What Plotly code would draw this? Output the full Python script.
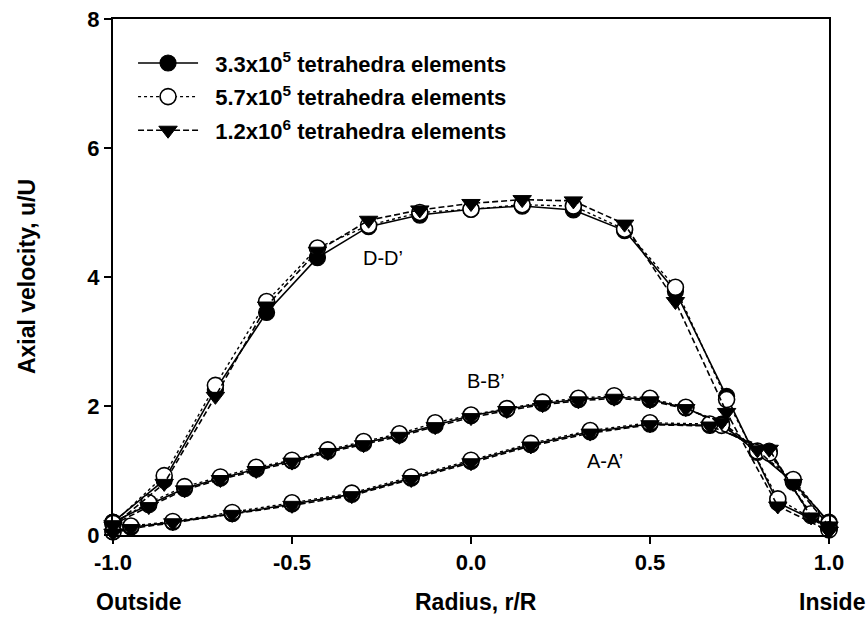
import plotly.graph_objects as go

# Radial stations (r/R) for each section
dd_r = [-1.0, -0.857, -0.714, -0.571, -0.429, -0.286, -0.143, 0.0,
        0.143, 0.286, 0.429, 0.571, 0.714, 0.857, 1.0]
bb_r = [-1.0, -0.9, -0.8, -0.7, -0.6, -0.5, -0.4, -0.3, -0.2, -0.1, 0.0,
        0.1, 0.2, 0.3, 0.4, 0.5, 0.6, 0.7, 0.8, 0.9, 1.0]
aa_r = [-1.0, -0.95, -0.833, -0.667, -0.5, -0.333, -0.167, 0.0,
        0.167, 0.333, 0.5, 0.667, 0.833, 0.95, 1.0]

# Axial velocity u/U, section D-D'
dd_coarse = [0.20, 0.85, 2.25, 3.45, 4.30, 4.78, 4.96, 5.05, 5.10, 5.04, 4.72, 3.78, 2.15, 0.50, 0.12]
dd_medium = [0.18, 0.92, 2.32, 3.62, 4.45, 4.80, 5.00, 5.05, 5.12, 5.10, 4.74, 3.84, 2.10, 0.56, 0.10]
dd_fine = [0.14, 0.80, 2.15, 3.55, 4.40, 4.88, 5.04, 5.14, 5.20, 5.18, 4.82, 3.62, 1.90, 0.45, 0.06]

# Axial velocity u/U, section B-B'
bb_coarse = [0.20, 0.47, 0.72, 0.88, 1.02, 1.15, 1.30, 1.42, 1.55, 1.70, 1.85,
             1.95, 2.04, 2.10, 2.14, 2.10, 1.97, 1.72, 1.28, 0.82, 0.20]
bb_medium = [0.18, 0.50, 0.75, 0.90, 1.05, 1.16, 1.32, 1.45, 1.57, 1.74, 1.86,
             1.96, 2.06, 2.12, 2.16, 2.12, 1.98, 1.70, 1.30, 0.86, 0.18]
bb_fine = [0.16, 0.44, 0.70, 0.86, 1.00, 1.13, 1.28, 1.40, 1.53, 1.68, 1.82,
           1.93, 2.02, 2.08, 2.12, 2.08, 1.96, 1.75, 1.32, 0.80, 0.14]

# Axial velocity u/U, section A-A'
aa_coarse = [0.05, 0.12, 0.20, 0.33, 0.48, 0.63, 0.88, 1.14, 1.40, 1.60, 1.72, 1.70, 1.30, 0.30, 0.10]
aa_medium = [0.05, 0.14, 0.21, 0.35, 0.50, 0.65, 0.90, 1.16, 1.42, 1.62, 1.74, 1.72, 1.27, 0.33, 0.08]
aa_fine = [0.03, 0.10, 0.19, 0.32, 0.46, 0.61, 0.86, 1.12, 1.38, 1.58, 1.71, 1.69, 1.33, 0.28, 0.06]

mesh_names = ["3.3x10<sup>5</sup> tetrahedra elements",
              "5.7x10<sup>5</sup> tetrahedra elements",
              "1.2x10<sup>6</sup> tetrahedra elements"]

section_labels = ["D-D\u2019", "B-B\u2019", "A-A\u2019"]
section_label_pos = [(-0.246, 4.29), (0.042, 2.38), (0.375, 1.15)]

x_ticks = [-1.0, -0.5, 0.0, 0.5, 1.0]
x_tick_text = ["-1.0", "-0.5", "0.0", "0.5", "1.0"]
y_ticks = [0, 2, 4, 6, 8]

FONT = "Arial, Liberation Sans, Helvetica, sans-serif"


def join_sections(*pairs):
    """Concatenate several (x, y) profiles into one trace with gaps."""
    xs, ys = [], []
    for x, y in pairs:
        if xs:
            xs.append(None)
            ys.append(None)
        xs.extend(x)
        ys.extend(y)
    return xs, ys


styles = [
    dict(line=dict(color="black", width=1.6, dash="solid"),
         marker=dict(symbol="circle", size=16, color="black",
                     line=dict(color="black", width=1.2))),
    dict(line=dict(color="black", width=1.4, dash="dot"),
         marker=dict(symbol="circle", size=16, color="white",
                     line=dict(color="black", width=1.6))),
    dict(line=dict(color="black", width=1.6, dash="6px,3px"),
         marker=dict(symbol="triangle-down", size=16, color="black",
                     line=dict(color="black", width=1.0))),
]

series = [
    ((dd_r, dd_coarse), (bb_r, bb_coarse), (aa_r, aa_coarse)),
    ((dd_r, dd_medium), (bb_r, bb_medium), (aa_r, aa_medium)),
    ((dd_r, dd_fine), (bb_r, bb_fine), (aa_r, aa_fine)),
]

fig = go.Figure()
for i, (name, style, profiles) in enumerate(zip(mesh_names, styles, series)):
    xs, ys = join_sections(*profiles)
    fig.add_trace(go.Scatter(
        x=xs, y=ys, mode="lines+markers", name="&nbsp;&nbsp;" + name,
        legendgroup=f"mesh{i}", connectgaps=False, cliponaxis=False,
        line=style["line"], marker=style["marker"],
    ))

for text, (lx, ly) in zip(section_labels, section_label_pos):
    fig.add_annotation(x=lx, y=ly, text=text, showarrow=False,
                       font=dict(family=FONT, size=20, color="black"))

# Axis titles and side labels
title_font = dict(family=FONT, size=23, color="black")
fig.add_annotation(xref="paper", yref="paper", x=0.507, y=-0.13,
                   text="<b>Radius, r/R</b>", showarrow=False,
                   xanchor="center", yanchor="middle", font=title_font)
fig.add_annotation(xref="paper", yref="paper", x=0.036, y=-0.13,
                   text="<b>Outside</b>", showarrow=False,
                   xanchor="center", yanchor="middle", font=title_font)
fig.add_annotation(xref="paper", yref="paper", x=1.004, y=-0.13,
                   text="<b>Inside</b>", showarrow=False,
                   xanchor="center", yanchor="middle", font=title_font)
fig.add_annotation(xref="paper", yref="paper", x=-0.12, y=0.5,
                   text="<b>Axial velocity, u/U</b>", showarrow=False,
                   textangle=-90, xanchor="center", yanchor="middle",
                   font=title_font)

axis_common = dict(
    showline=True, linecolor="black", linewidth=2, mirror=True,
    ticks="outside", ticklen=7, tickwidth=1.5, tickcolor="black",
    showgrid=False, zeroline=False, automargin=False,
    tickfont=dict(family=FONT, size=22, color="black", weight="bold"),
)

fig.update_layout(
    width=866, height=618,
    margin=dict(l=113, r=37, t=19, b=83, autoexpand=False),
    paper_bgcolor="white", plot_bgcolor="white",
    font=dict(family=FONT, color="black"),
    showlegend=True,
    legend=dict(
        x=0.028, y=0.955, xanchor="left", yanchor="top",
        bgcolor="rgba(0,0,0,0)", borderwidth=0,
        font=dict(family=FONT, size=22, color="black", weight="bold"),
        itemwidth=60, tracegroupgap=2, traceorder="grouped",
    ),
    xaxis=dict(range=[-1.0, 1.0], tickvals=x_ticks, ticktext=x_tick_text,
               **axis_common),
    yaxis=dict(range=[0, 8], tickvals=y_ticks, **axis_common),
)

fig.write_html("out.html")
